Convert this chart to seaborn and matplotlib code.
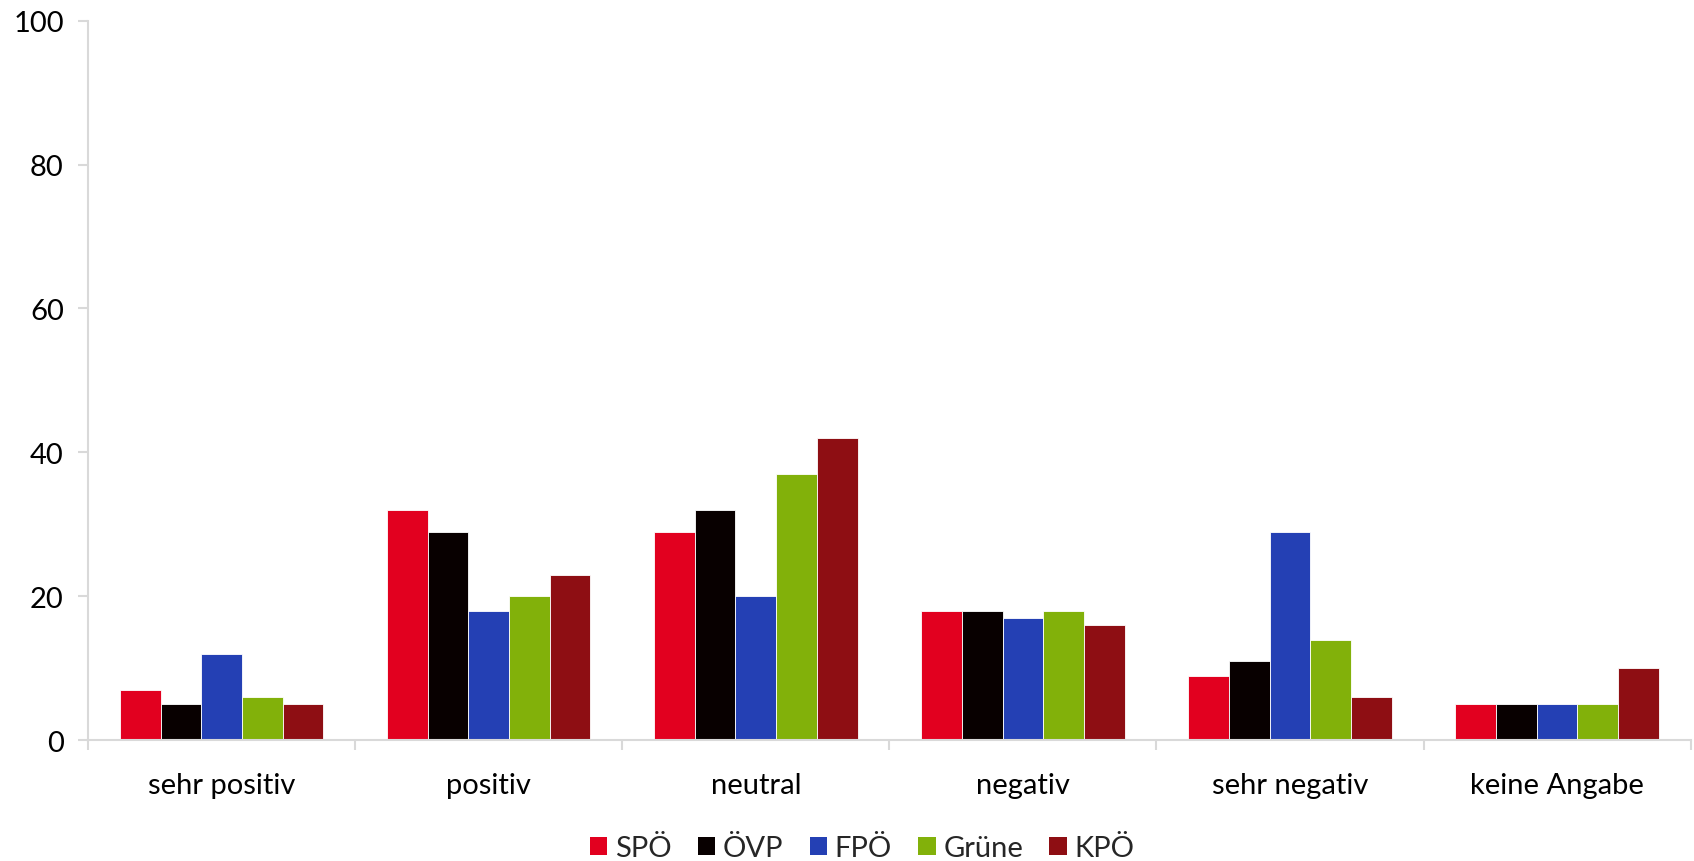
import matplotlib
matplotlib.use("Agg")
import matplotlib.pyplot as plt
import seaborn as sns
import pandas as pd
import numpy as np
from matplotlib.patches import Patch

categories = ["sehr positiv", "positiv", "neutral", "negativ", "sehr negativ", "keine Angabe"]
parties = ["SPÖ", "ÖVP", "FPÖ", "Grüne", "KPÖ"]
spoe = [7, 32, 29, 18, 9, 5]
oevp = [5, 29, 32, 18, 11, 5]
fpoe = [12, 18, 20, 17, 29, 5]
gruene = [6, 20, 37, 18, 14, 5]
kpoe = [5, 23, 42, 16, 6, 10]
colors = ["#E2001F", "#080000", "#2440B4", "#82B10A", "#8E0E13"]
y_ticks = [0, 20, 40, 60, 80, 100]

values = [spoe, oevp, fpoe, gruene, kpoe]
df = pd.DataFrame(
    [(c, p, v) for p, vals in zip(parties, values) for c, v in zip(categories, vals)],
    columns=["Kategorie", "Partei", "Wert"],
)

sns.set_theme(style="white")
plt.rcParams["font.family"] = ["Lato", "DejaVu Sans"]
fs = 21

fig = plt.figure(figsize=(16.94, 8.62), dpi=100)
ax = fig.add_axes([0.052, 0.14, 0.946, 0.835])

sns.barplot(
    data=df, x="Kategorie", y="Wert", hue="Partei",
    order=categories, hue_order=parties, palette=colors, saturation=1,
    width=0.762, edgecolor="white", linewidth=0.6,
    ax=ax, legend=False, errorbar=None,
)

ax.set_xlim(-0.5, len(categories) - 0.5)
ax.set_ylim(0, 100)
ax.set_yticks(y_ticks)
ax.set_xlabel("")
ax.set_ylabel("")

grey = "#D9D9D9"
for side in ["top", "right"]:
    ax.spines[side].set_visible(False)
for side in ["left", "bottom"]:
    ax.spines[side].set_color(grey)
    ax.spines[side].set_linewidth(1.5)

ax.tick_params(axis="y", which="major", length=7.5, width=1.5, color=grey,
               labelsize=fs, labelcolor="black", pad=10, left=True)
ax.tick_params(axis="x", which="major", length=0, labelsize=fs,
               labelcolor="black", pad=23)
ax.set_xticks(np.arange(-0.5, len(categories)), minor=True)
ax.tick_params(axis="x", which="minor", length=7.5, width=1.5, color=grey, bottom=True)

handles = [Patch(facecolor=c, edgecolor="none") for c in colors]
fig.legend(handles, parties, loc="center", bbox_to_anchor=(0.509, 0.015),
           ncol=5, frameon=False, fontsize=fs, handlelength=0.6, handleheight=0.6,
           handletextpad=0.26, columnspacing=0.9)

fig.savefig("out.png", dpi=100, facecolor="white")
